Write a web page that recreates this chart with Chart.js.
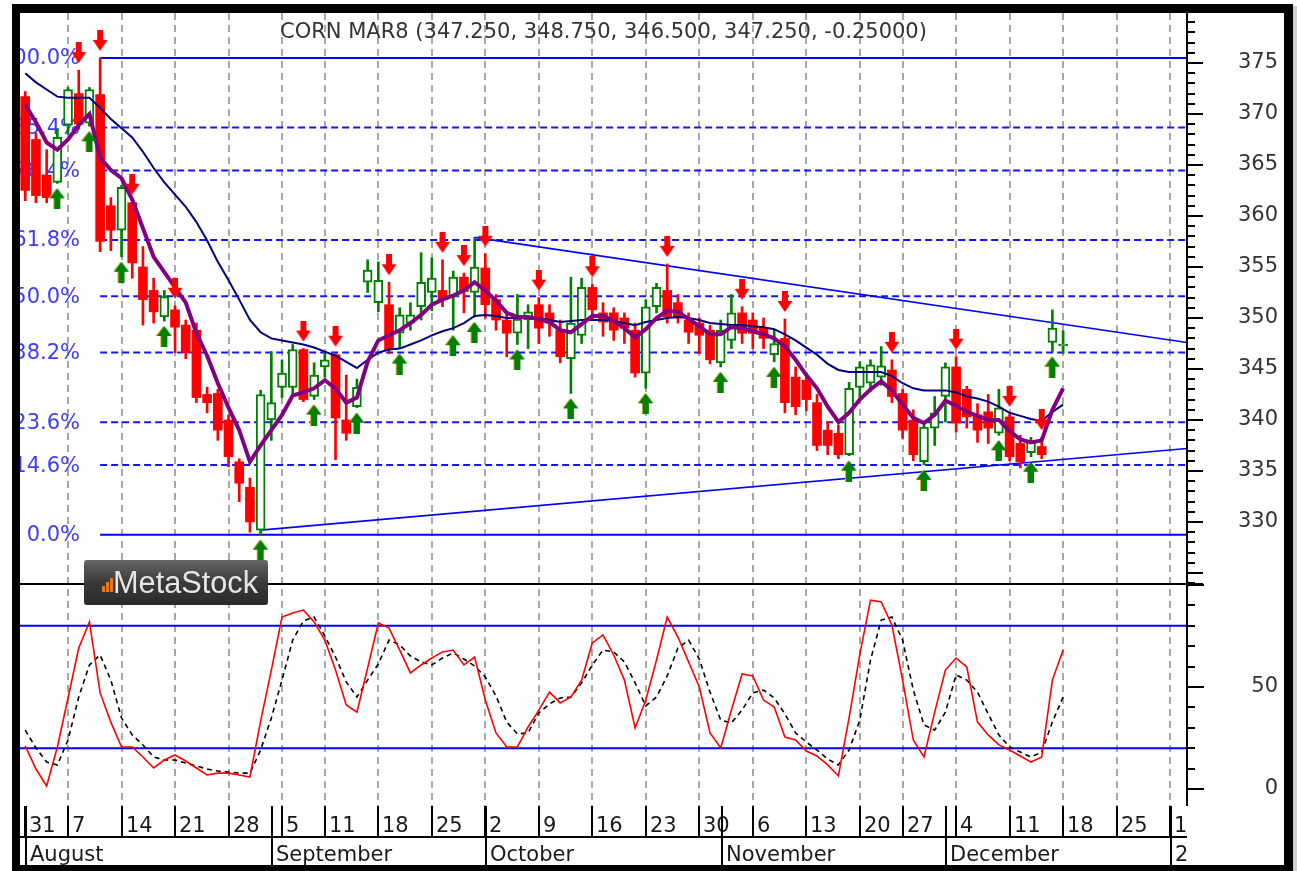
<!DOCTYPE html>
<html>
<head>
<meta charset="utf-8">
<title>CORN MAR8</title>
<script src="https://cdn.jsdelivr.net/npm/chart.js@4.4.0/dist/chart.umd.min.js"></script>
<style>
  html, body { margin: 0; padding: 0; background: #fff; }
  #wrap { position: relative; width: 1297px; height: 871px; }
</style>
</head>
<body>
<div id="wrap"><canvas id="cornChart"></canvas></div>
<script>
// bar index 0 = Aug 7; the first bar on screen (-4) is Aug 1
const firstBar = -4;

// daily candles, Aug 1 .. Dec 18
const openP = [
  371.7, 367.5, 364.0, 363.3, 368.9, 372.0, 369.1, 371.9, 361.0, 358.6,
  361.3, 355.0, 352.7, 350.1, 350.8, 349.3, 348.8, 342.5, 342.6, 340.0,
  335.9, 333.4, 329.2, 340.0, 343.2, 343.2, 346.9, 342.3, 345.2, 346.4,
  340.0, 341.3, 353.5, 351.5, 351.3, 348.5, 349.5, 351.1, 352.5, 352.7,
  352.1, 354.0, 352.5, 354.9, 351.8, 349.8, 348.5, 349.8, 351.3, 350.5,
  348.8, 346.0, 348.3, 353.0, 350.5, 350.5, 350.0, 348.8, 344.6, 351.1,
  352.7, 351.5, 349.8, 349.5, 348.8, 345.6, 347.8, 350.5, 349.8, 349.0,
  346.4, 348.0, 344.2, 343.9, 341.7, 339.0, 338.7, 336.6, 343.2, 343.6,
  344.2, 344.9, 342.6, 340.0, 335.9, 339.2, 342.3, 345.2, 343.0, 340.5,
  340.8, 338.7, 340.3, 337.7, 336.8, 337.4, 347.6, 347.25
];
const highP = [
  372.2, 368.1, 366.5, 368.5, 372.6, 374.3, 372.6, 375.5, 361.8, 363.0,
  361.4, 357.0, 353.9, 352.7, 351.2, 349.8, 349.5, 343.2, 343.0, 340.5,
  336.2, 334.3, 342.9, 346.7, 345.9, 347.4, 347.0, 345.6, 346.7, 346.5,
  344.4, 344.0, 355.7, 355.5, 353.5, 351.0, 351.5, 356.4, 355.9, 355.7,
  354.6, 354.4, 357.9, 356.3, 352.3, 350.5, 352.3, 351.3, 352.0, 351.3,
  349.8, 354.0, 353.9, 353.3, 351.5, 351.0, 350.5, 349.5, 351.8, 353.4,
  355.3, 352.3, 350.5, 350.0, 349.3, 349.8, 352.3, 351.1, 350.5, 350.0,
  348.8, 349.9, 345.2, 344.6, 342.5, 339.8, 339.5, 343.7, 345.7, 345.9,
  347.2, 345.9, 343.0, 341.0, 339.8, 342.3, 345.6, 346.2, 343.3, 341.6,
  342.5, 343.0, 340.6, 338.5, 338.3, 338.3, 350.8, 348.75
];
const lowP = [
  361.5, 361.3, 361.3, 363.2, 368.0, 368.5, 368.8, 356.5, 356.6, 356.0,
  353.9, 349.3, 349.5, 349.7, 346.6, 346.0, 341.7, 340.7, 338.0, 335.4,
  332.0, 329.0, 328.75, 338.0, 342.2, 342.6, 341.8, 342.0, 344.2, 336.1,
  338.0, 341.2, 352.5, 350.6, 346.5, 347.0, 348.8, 349.8, 350.7, 351.1,
  348.8, 350.5, 350.1, 350.0, 348.8, 346.2, 347.4, 347.0, 347.5, 348.2,
  345.6, 342.6, 347.5, 349.8, 348.2, 347.8, 347.5, 344.2, 343.1, 350.5,
  349.5, 349.5, 347.5, 346.5, 345.5, 345.2, 347.0, 347.5, 347.0, 347.0,
  345.7, 340.7, 340.5, 340.9, 337.0, 336.6, 336.2, 336.5, 342.0, 342.8,
  343.4, 341.7, 338.2, 336.0, 335.6, 337.5, 339.8, 338.8, 339.2, 337.8,
  337.7, 338.5, 336.0, 335.3, 336.4, 336.2, 346.7, 346.5
];
const closeP = [
  362.5, 362.0, 361.8, 367.7, 372.4, 369.0, 372.4, 357.5, 358.6, 362.8,
  355.4, 351.8, 350.6, 352.1, 349.1, 346.6, 342.2, 341.7, 339.0, 336.4,
  333.8, 330.0, 342.5, 341.7, 344.6, 346.9, 342.0, 344.4, 345.9, 340.2,
  338.7, 343.2, 354.7, 353.7, 346.9, 350.3, 350.3, 353.5, 353.9, 351.8,
  354.0, 352.6, 355.0, 351.3, 349.8, 348.5, 349.9, 350.6, 349.0, 349.5,
  346.2, 349.5, 353.0, 350.8, 349.6, 348.8, 349.0, 344.6, 351.1, 353.0,
  350.1, 350.0, 348.6, 348.3, 345.9, 348.8, 350.5, 348.5, 348.5, 348.0,
  347.5, 341.7, 341.3, 342.0, 337.5, 337.5, 336.6, 343.1, 345.2, 345.4,
  345.3, 342.3, 339.0, 336.6, 339.3, 340.7, 345.2, 339.7, 340.3, 339.0,
  339.2, 341.2, 336.4, 335.9, 337.9, 336.6, 349.0, 347.25
];

// moving averages (purple = fast, navy = slow)
const maFast = [
  370.9, 369.2, 367.2, 366.5, 367.5, 368.9, 370.0, 365.7, 364.5, 363.7,
  361.6, 358.8, 356.0, 354.5, 353.0, 351.5, 348.5, 346.3, 343.6, 341.2,
  339.0, 335.9, 337.5, 339.0, 340.5, 342.4, 342.7, 343.1, 343.9, 343.1,
  341.7, 342.2, 345.7, 347.8, 348.3, 348.8, 349.5, 350.3, 351.3, 351.8,
  352.2, 352.7, 353.5, 352.7, 351.7, 350.5, 350.1, 350.1, 349.9, 349.6,
  348.8, 348.6, 349.4, 350.2, 350.2, 349.7, 349.0, 348.1, 348.9, 350.0,
  350.7, 350.6, 349.9, 349.2, 348.4, 348.4, 349.1, 349.0, 348.7, 348.4,
  348.0, 347.2, 345.9, 344.4, 343.1, 341.3, 339.8, 340.7, 342.0, 343.0,
  343.8, 342.9, 341.5, 340.2, 339.7, 340.5, 341.9, 341.4, 340.8, 340.4,
  340.0, 340.0, 338.9, 338.1, 337.8, 338.0, 341.0, 343.1
];
const maSlow = [
  374.0, 373.1, 372.4, 371.7, 371.6, 371.6, 371.6, 370.6, 369.5, 368.6,
  367.7, 366.3, 364.7, 363.3, 362.1, 360.9, 359.4, 357.6, 355.5, 353.7,
  351.8, 349.8, 348.6, 348.0, 347.8, 347.6, 347.4, 347.1, 346.7, 346.3,
  345.7, 345.1, 345.9, 346.6, 346.9, 347.0, 347.4, 347.8, 348.3, 348.7,
  349.0, 349.5, 350.2, 350.3, 350.2, 350.0, 350.0, 350.0, 350.0, 349.8,
  349.6, 349.7, 349.8, 349.8, 349.8, 349.7, 349.5, 349.3, 349.6, 349.8,
  350.0, 350.1, 350.0, 349.8, 349.5, 349.4, 349.3, 349.3, 349.2, 349.1,
  348.9, 348.4, 347.8, 347.1, 346.4, 345.5, 344.9, 344.7, 344.7, 344.7,
  344.7, 344.3, 343.6, 343.1, 342.9, 342.9, 342.9, 342.7, 342.3, 342.1,
  341.8, 341.3, 340.7, 340.4, 340.1, 339.9, 340.8, 341.5
];

// stochastic oscillator (%K red, %D black dashed)
const stochK = [
  21.1, 9.8, 1.5, 20.6, 44.6, 69.1, 81.9, 47.1, 32.8, 20.6,
  20.6, 15.7, 10.3, 14.2, 16.7, 13.7, 10.3, 6.9, 7.8, 7.8,
  6.9, 5.9, 33.3, 58.3, 84.3, 86.3, 87.7, 81.9, 73.0, 58.3,
  41.2, 37.7, 59.3, 81.4, 78.9, 68.1, 56.9, 60.8, 64.2, 67.2,
  68.1, 60.8, 64.7, 43.6, 27.5, 20.6, 20.6, 30.4, 38.7, 47.5,
  42.2, 45.1, 53.4, 71.6, 75.5, 65.7, 53.4, 29.9, 43.6, 63.2,
  84.3, 74.5, 62.3, 50.0, 27.5, 20.1, 38.7, 56.4, 55.4, 43.6,
  40.2, 25.5, 24.0, 18.6, 16.2, 11.8, 6.4, 35.0, 66.0, 92.6,
  91.7, 80.4, 53.4, 24.0, 15.7, 37.7, 58.3, 64.2, 59.8, 32.8,
  26.5, 21.6, 19.1, 16.2, 13.2, 15.7, 53.4, 68.1
];
const stochD = [
  28.9, 20.1, 13.2, 11.8, 24.0, 45.1, 60.8, 65.7, 53.4, 34.8,
  26.5, 21.6, 15.7, 14.2, 14.2, 12.7, 11.3, 9.8, 8.8, 8.3,
  7.8, 7.8, 19.1, 34.8, 53.4, 73.0, 82.4, 84.3, 75.0, 64.7,
  52.5, 45.1, 53.4, 61.3, 73.0, 70.6, 65.2, 62.3, 60.8, 64.2,
  66.7, 63.7, 60.3, 54.9, 45.6, 32.8, 27.0, 27.5, 37.3, 41.7,
  44.6, 45.1, 52.0, 60.8, 68.1, 67.2, 62.3, 52.0, 40.7, 45.1,
  55.4, 69.1, 73.0, 63.7, 47.5, 33.8, 32.4, 38.7, 47.1, 48.5,
  44.6, 36.8, 27.5, 23.0, 19.1, 14.7, 11.8, 19.1, 33.8, 63.2,
  82.8, 84.3, 73.0, 48.5, 31.4, 28.9, 37.7, 55.9, 53.4, 47.5,
  36.8, 26.5, 20.6, 18.1, 15.7, 18.1, 32.8, 45.1
];

// signal arrows (bar indices)
const sellBars = [1, 3, 6, 10, 22, 25, 30, 35, 37, 39, 44, 49, 56, 63, 67, 77, 83, 88, 91];
const buyBars = [-1, 2, 5, 9, 18, 23, 27, 31, 36, 38, 42, 47, 54, 61, 66, 73, 80, 87, 90, 92];

// fibonacci retracement from the Aug 10 high to the Aug 31 low
const fibHigh = 375.5;
const fibLow = 328.75;
const fibStartBar = 3;
const fibRatios = [0, 14.6, 23.6, 38.2, 50, 61.8, 76.4, 85.4, 100];

// trend lines: [bar, price] anchors
const downTrend = [[38, 357.9], [104.58, 347.6]];
const upTrend = [[18, 329.2], [104.58, 337.2]];

// axes
const priceTicks = [330, 335, 340, 345, 350, 355, 360, 365, 370, 375];
const stochTicks = [0, 50];
const stochBands = [20, 80];
const weekTickBars = [-4, 0, 5, 10, 15, 20, 24, 29, 34, 39, 44, 49, 54, 59, 64, 69, 74, 78, 83, 88, 93, 98, 103];
const weekTickLabels = ['31', '7', '14', '21', '28', '5', '11', '18', '25', '2', '9', '16', '23', '30', '6', '13', '20', '27', '4', '11', '18', '25', '1'];
const monthBars = [-4, 19, 39, 61, 82, 103];
const monthLabels = ['August', 'September', 'October', 'November', 'December', '2'];
const titleText = 'CORN MAR8 (347.250, 348.750, 346.500, 347.250, -0.25000)';

const xMin = -4.49, xMax = 104.58;

document.addEventListener('DOMContentLoaded', () => {
    const canvas = document.getElementById('cornChart');
    if (!canvas) {
        console.error('canvas not found');
        return;
    }

    const upGreen = '#008000';
    const downRed = '#ff0000';
    const fibBlue = '#1414ff';
    const txtFont = '21px "DejaVu Sans"';

    const barIdx = openP.map((_, k) => firstBar + k);
    const rising = openP.map((o, k) => closeP[k] >= o);
    const pts = arr => arr.map((v, k) => ({ x: barIdx[k], y: v }));
    const fibLevel = r => fibLow + (fibHigh - fibLow) * r / 100;

    // arrow markers drawn into small canvases, used as point styles
    function makeArrow(color, down) {
        const c = document.createElement('canvas');
        const gap = down ? 7 : 5, len = 21;
        c.width = 16;
        c.height = 2 * (gap + len);
        const g = c.getContext('2d');
        const paint = (dx, col) => {
            g.fillStyle = col;
            if (down) {
                g.fillRect(5 + dx, 0, 6, 11);
                g.beginPath();
                g.moveTo(0.5 + dx, 10); g.lineTo(15.5 + dx, 10); g.lineTo(8 + dx, len);
                g.closePath(); g.fill();
            } else {
                const t = c.height / 2 + gap;
                g.beginPath();
                g.moveTo(8 + dx, t); g.lineTo(15.5 + dx, t + 10); g.lineTo(0.5 + dx, t + 10);
                g.closePath(); g.fill();
                g.fillRect(5 + dx, t + 9, 6, 12);
            }
        };
        if (!down) paint(-1, '#d9a520');
        paint(0, color);
        return c;
    }
    const sellArrow = makeArrow(downRed, true);
    const buyArrow = makeArrow(upGreen, false);

    function line(ctx, x1, y1, x2, y2) {
        ctx.beginPath();
        ctx.moveTo(x1, y1);
        ctx.lineTo(x2, y2);
        ctx.stroke();
    }

    // right axes: fixed width, no extra top/bottom padding from the tick labels
    function fixRightAxis(s) {
        s.width = 91;
        s.paddingTop = 0;
        s.paddingBottom = 0;
    }

    const panelPlugin = {
        id: 'panelPlugin',
        beforeDraw(chart) {
            const ctx = chart.ctx;
            ctx.save();
            ctx.fillStyle = '#ffffff';
            ctx.fillRect(0, 0, chart.width, chart.height);
            ctx.restore();
        },
        beforeDatasetsDraw(chart) {
            const { ctx, chartArea: a, scales } = chart;
            const xs = scales.x, ys = scales.y;
            ctx.save();
            // dashed weekly grid
            ctx.strokeStyle = '#a8a8a8';
            ctx.lineWidth = 2;
            ctx.setLineDash([7, 5]);
            weekTickBars.forEach(v => {
                if (v <= firstBar) return;
                const x = Math.round(xs.getPixelForValue(v));
                line(ctx, x, a.top, x, a.bottom);
            });
            ctx.setLineDash([]);
            // fibonacci labels, clipped at the left edge
            ctx.beginPath();
            ctx.rect(a.left, a.top, a.right - a.left, a.bottom - a.top);
            ctx.clip();
            ctx.font = txtFont;
            ctx.fillStyle = '#3c3cff';
            ctx.textAlign = 'right';
            ctx.textBaseline = 'middle';
            fibRatios.forEach(r => {
                ctx.fillText(r.toFixed(1) + '%', a.left + 60, ys.getPixelForValue(fibLevel(r)) + 1);
            });
            ctx.restore();
        },
        afterDraw(chart) {
            const { ctx, chartArea: a, scales } = chart;
            const xs = scales.x, ys = scales.y, yst = scales.yS;
            ctx.save();
            ctx.strokeStyle = '#000';
            ctx.lineWidth = 2;

            // right axis line and tick marks
            line(ctx, a.right, a.top, a.right, a.bottom);
            for (let v = Math.ceil(ys.min); v <= Math.floor(ys.max); v++) {
                const y = Math.round(ys.getPixelForValue(v));
                line(ctx, a.right, y, a.right + (v % 5 === 0 ? 16 : 8), y);
            }
            for (let v = 0; v <= 100; v += 10) {
                const y = Math.round(yst.getPixelForValue(v));
                line(ctx, a.right, y, a.right + (v % 50 === 0 ? 17 : 8), y);
            }
            // separator between panes
            const sepY = Math.round(yst.top) - 1;
            line(ctx, a.left, sepY, a.right + 16, sepY);

            // date axis
            const rowMid = a.bottom + 31, rowEnd = a.bottom + 59;
            ctx.font = txtFont;
            ctx.fillStyle = '#1a1a1a';
            ctx.textAlign = 'left';
            ctx.textBaseline = 'alphabetic';
            weekTickBars.forEach((v, k) => {
                const x = Math.round(xs.getPixelForValue(v));
                line(ctx, x, a.bottom, x, rowMid);
                ctx.fillText(weekTickLabels[k], x + 4, a.bottom + 26);
            });
            line(ctx, a.left, rowMid, a.right, rowMid);
            monthBars.forEach((v, k) => {
                const x = Math.round(xs.getPixelForValue(v)) + 1;
                line(ctx, x, a.bottom, x, rowEnd);
                ctx.fillText(monthLabels[k], x + 4, rowEnd - 4);
            });

            // title
            ctx.fillStyle = '#333333';
            ctx.textAlign = 'center';
            ctx.textBaseline = 'middle';
            ctx.fillText(titleText, (a.left + a.right) / 2, 33);

            // MetaStock badge
            const lx = 84, ly = 560, lw = 184, lh = 45;
            const grad = ctx.createLinearGradient(0, ly, 0, ly + lh);
            grad.addColorStop(0, '#666666');
            grad.addColorStop(0.5, '#3a3a3a');
            grad.addColorStop(1, '#2a2a2a');
            ctx.fillStyle = grad;
            ctx.beginPath();
            ctx.roundRect(lx, ly, lw, lh, 3);
            ctx.fill();
            ctx.fillStyle = '#e8781e';
            ctx.fillRect(102, 586, 3, 6);
            ctx.fillRect(106, 582, 3, 10);
            ctx.fillRect(110, 578, 3, 14);
            ctx.font = '31px "Liberation Sans"';
            ctx.fillStyle = '#e6e6e6';
            ctx.textAlign = 'left';
            ctx.textBaseline = 'alphabetic';
            const tw = ctx.measureText('MetaStock').width;
            ctx.translate(113, 593);
            ctx.scale(145 / tw, 1);
            ctx.fillText('MetaStock', 0, 0);
            ctx.setTransform(1, 0, 0, 1, 0, 0);

            // outer black frame
            ctx.fillStyle = '#000';
            ctx.fillRect(12, 4, 1281, 9);
            ctx.fillRect(12, 4, 8, 867);
            ctx.fillRect(1284, 4, 9, 867);
            ctx.fillRect(12, 865, 1281, 6);
            ctx.fillStyle = '#cfcfcf';
            ctx.fillRect(1293, 6, 4, 865);
            ctx.restore();
        }
    };

    const datasets = [
        {
            type: 'line', data: sellBars.map(i => ({ x: i, y: highP[i - firstBar] })),
            showLine: false, pointStyle: sellArrow, pointRadius: 5, yAxisID: 'y', order: 0
        },
        {
            type: 'line', data: buyBars.map(i => ({ x: i, y: lowP[i - firstBar] })),
            showLine: false, pointStyle: buyArrow, pointRadius: 5, yAxisID: 'y', order: 0
        },
        {
            type: 'line', data: pts(maFast), borderColor: '#800080', borderWidth: 4,
            pointRadius: 0, tension: 0, yAxisID: 'y', order: 1
        },
        {
            type: 'line', data: pts(maSlow), borderColor: '#000080', borderWidth: 2,
            pointRadius: 0, tension: 0, yAxisID: 'y', order: 2
        },
        {
            type: 'bar',
            data: barIdx.map((x, k) => ({ x, y: [Math.min(openP[k], closeP[k]), Math.max(openP[k], closeP[k])] })),
            backgroundColor: c => rising[c.dataIndex] ? '#ffffff' : downRed,
            borderColor: c => rising[c.dataIndex] ? upGreen : downRed,
            borderWidth: c => rising[c.dataIndex] ? 2 : 0,
            borderSkipped: false, barThickness: 9, minBarLength: 2, grouped: false,
            yAxisID: 'y', order: 3
        },
        {
            type: 'bar',
            data: barIdx.map((x, k) => ({ x, y: [lowP[k], highP[k]] })),
            backgroundColor: c => rising[c.dataIndex] ? upGreen : downRed,
            borderWidth: 0, barThickness: 2, grouped: false, yAxisID: 'y', order: 4
        },
        {
            type: 'line', data: downTrend.map(p => ({ x: p[0], y: p[1] })),
            borderColor: '#0000ff', borderWidth: 1.6, pointRadius: 0, yAxisID: 'y', order: 5
        },
        {
            type: 'line', data: upTrend.map(p => ({ x: p[0], y: p[1] })),
            borderColor: '#0000ff', borderWidth: 1.6, pointRadius: 0, yAxisID: 'y', order: 5
        }
    ];

    fibRatios.forEach(r => {
        const solid = r === 0 || r === 100;
        datasets.push({
            type: 'line', data: [{ x: fibStartBar, y: fibLevel(r) }, { x: xMax, y: fibLevel(r) }],
            borderColor: solid ? '#0000ff' : fibBlue, borderWidth: 2,
            borderDash: solid ? [] : [7, 4], pointRadius: 0, yAxisID: 'y', order: 6
        });
    });

    datasets.push(
        {
            type: 'line', data: pts(stochK), borderColor: '#ff0000', borderWidth: 1.6,
            pointRadius: 0, tension: 0, yAxisID: 'yS', order: 7
        },
        {
            type: 'line', data: pts(stochD), borderColor: '#000000', borderWidth: 1.6,
            borderDash: [5, 4], pointRadius: 0, tension: 0, yAxisID: 'yS', order: 8
        }
    );
    stochBands.forEach(b => {
        datasets.push({
            type: 'line', data: [{ x: xMin, y: b }, { x: xMax, y: b }],
            borderColor: '#0000ff', borderWidth: 2, pointRadius: 0, yAxisID: 'yS', order: 9
        });
    });

    Chart.defaults.font.family = '"DejaVu Sans", sans-serif';

    new Chart(canvas, {
        type: 'line',
        data: { datasets },
        options: {
            responsive: true,
            maintainAspectRatio: false,
            devicePixelRatio: 1,
            animation: false,
            events: [],
            layout: { padding: { left: 20, top: 13, right: 19, bottom: 6 } },
            plugins: { legend: { display: false }, tooltip: { enabled: false } },
            scales: {
                x: {
                    type: 'linear', position: 'bottom', min: xMin, max: xMax, offset: false,
                    grid: { display: false }, border: { display: false },
                    ticks: { display: false },
                    afterFit(s) { s.height = 59; s.paddingLeft = 0; s.paddingRight = 0; }
                },
                y: {
                    type: 'linear', position: 'right', stack: 'panes', stackWeight: 572,
                    min: 323.82, max: 379.9,
                    grid: { display: false }, border: { display: false },
                    afterBuildTicks(s) { s.ticks = priceTicks.map(v => ({ value: v })); },
                    ticks: { padding: 45, crossAlign: 'far', autoSkip: false, color: '#333333', font: { size: 21 } },
                    afterFit: fixRightAxis
                },
                yS: {
                    type: 'linear', position: 'right', stack: 'panes', stackWeight: 221,
                    min: -8.33, max: 100,
                    grid: { display: false }, border: { display: false },
                    afterBuildTicks(s) { s.ticks = stochTicks.map(v => ({ value: v })); },
                    ticks: { padding: 58, crossAlign: 'far', autoSkip: false, color: '#333333', font: { size: 21 } },
                    afterFit: fixRightAxis
                }
            }
        },
        plugins: [panelPlugin]
    });
});
</script>
</body>
</html>
